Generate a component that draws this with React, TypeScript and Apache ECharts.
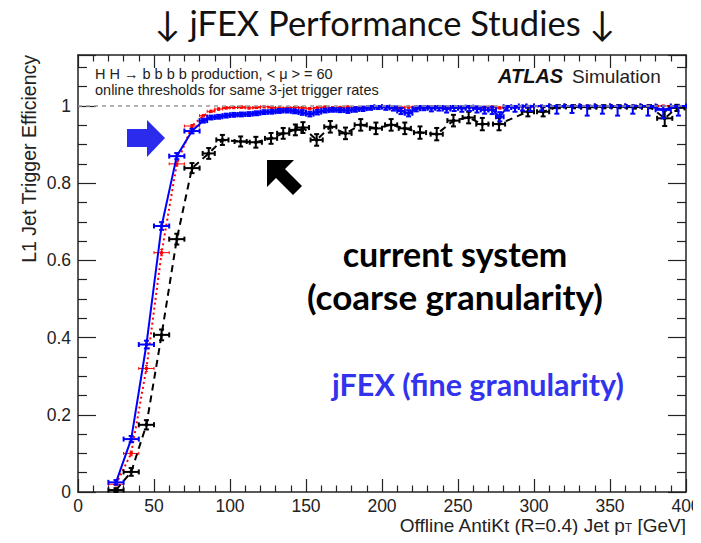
import React, { useEffect, useRef } from "react";
import * as echarts from "echarts";

// ---- data ----
const blueX = [25, 35, 45, 55, 65, 75, 82.5, 87.5, 92.5, 97.5, 102.5, 107.5, 112.5, 117.5, 122.5, 127.5, 132.5, 137.5, 142.5, 147.5, 152.5, 157.5, 162.5, 167.5, 172.5, 177.5, 182.5, 187.5, 192.5, 197.5, 202.5, 207.5, 212.5, 217.5, 222.5, 227.5, 232.5, 237.5, 242.5, 247.5, 252.5, 257.5, 262.5, 267.5, 272.5, 277.5, 282.5, 287.5, 292.5, 297.5, 305, 315, 325, 335, 345, 355, 365, 375, 385, 395];
const blueY = [0.025, 0.137, 0.382, 0.689, 0.87, 0.935, 0.962, 0.97, 0.972, 0.975, 0.977, 0.978, 0.979, 0.981, 0.984, 0.985, 0.987, 0.988, 0.986, 0.983, 0.979, 0.984, 0.988, 0.99, 0.989, 0.988, 0.991, 0.993, 0.996, 0.998, 0.997, 0.995, 0.987, 0.981, 0.993, 0.996, 0.994, 0.996, 0.992, 0.996, 0.994, 0.997, 0.993, 0.99, 0.99, 0.972, 0.998, 0.996, 1.0, 0.999, 1.0, 1.0, 1.0, 1.0, 1.0, 1.0, 1.0, 1.0, 0.99, 1.0];
const blueHalfBin = [5, 5, 5, 5, 5, 5, 2.5, 2.5, 2.5, 2.5, 2.5, 2.5, 2.5, 2.5, 2.5, 2.5, 2.5, 2.5, 2.5, 2.5, 2.5, 2.5, 2.5, 2.5, 2.5, 2.5, 2.5, 2.5, 2.5, 2.5, 2.5, 2.5, 2.5, 2.5, 2.5, 2.5, 2.5, 2.5, 2.5, 2.5, 2.5, 2.5, 2.5, 2.5, 2.5, 2.5, 2.5, 2.5, 2.5, 2.5, 5, 5, 5, 5, 5, 5, 5, 5, 5, 5];
const blueErrLo = [0.006, 0.008, 0.01, 0.01, 0.008, 0.006, 0.005, 0.005, 0.005, 0.005, 0.005, 0.005, 0.005, 0.005, 0.005, 0.005, 0.005, 0.005, 0.005, 0.006, 0.006, 0.006, 0.005, 0.005, 0.005, 0.006, 0.006, 0.006, 0.006, 0.006, 0.007, 0.007, 0.008, 0.008, 0.007, 0.007, 0.008, 0.008, 0.009, 0.009, 0.009, 0.01, 0.01, 0.01, 0.011, 0.012, 0.01, 0.011, 0.012, 0.012, 0.012, 0.02, 0.018, 0.025, 0.02, 0.025, 0.02, 0.025, 0.022, 0.025];
const blueErrHi = [0.006, 0.008, 0.01, 0.01, 0.008, 0.006, 0.005, 0.005, 0.005, 0.005, 0.005, 0.005, 0.005, 0.005, 0.005, 0.005, 0.005, 0.005, 0.005, 0.006, 0.006, 0.006, 0.005, 0.005, 0.005, 0.006, 0.006, 0.005, 0.004, 0.002, 0.003, 0.004, 0.008, 0.008, 0.006, 0.004, 0.005, 0.004, 0.007, 0.004, 0.005, 0.003, 0.006, 0.008, 0.008, 0.012, 0.002, 0.004, 0, 0.001, 0, 0, 0, 0, 0, 0, 0, 0, 0.01, 0];

const redX = [25, 35, 45, 55, 65, 75, 82.5, 87.5, 92.5, 97.5, 102.5, 107.5, 112.5, 117.5, 122.5, 127.5, 132.5, 137.5, 142.5, 147.5, 152.5, 157.5, 162.5, 167.5, 172.5, 177.5, 182.5, 187.5, 192.5, 197.5, 202.5, 207.5, 212.5, 217.5, 222.5, 227.5, 232.5, 237.5, 242.5, 247.5, 252.5, 257.5, 262.5, 267.5, 272.5, 277.5, 282.5, 287.5, 292.5, 297.5, 305, 315, 325, 335, 345, 355, 365, 375, 385, 395];
const redY = [0.02, 0.1, 0.32, 0.62, 0.85, 0.948, 0.975, 0.986, 0.992, 0.995, 0.996, 0.997, 0.995, 0.996, 0.998, 0.996, 0.995, 0.994, 0.996, 0.995, 0.993, 0.996, 0.997, 0.995, 0.996, 0.997, 0.995, 0.996, 0.997, 0.996, 0.997, 0.996, 0.995, 0.997, 0.996, 0.995, 0.997, 0.996, 0.995, 0.997, 0.996, 0.997, 0.995, 0.996, 0.997, 0.995, 0.998, 0.997, 0.998, 0.998, 0.999, 0.999, 1.0, 1.0, 1.0, 1.0, 1.0, 1.0, 1.0, 1.0];
const redErr = [0.004, 0.006, 0.008, 0.008, 0.006, 0.004, 0.003, 0.003, 0.003, 0.003, 0.003, 0.003, 0.003, 0.003, 0.003, 0.003, 0.003, 0.003, 0.003, 0.003, 0.003, 0.003, 0.003, 0.003, 0.003, 0.003, 0.003, 0.003, 0.003, 0.003, 0.003, 0.003, 0.003, 0.003, 0.003, 0.003, 0.003, 0.003, 0.003, 0.003, 0.003, 0.003, 0.003, 0.003, 0.003, 0.003, 0.002, 0.002, 0.002, 0.002, 0.001, 0.001, 0, 0, 0, 0, 0, 0, 0, 0];

const blackX = [25, 35, 45, 55, 65, 75, 86, 95, 107, 117, 127, 135, 143, 148, 157, 166, 176, 186, 196, 206, 215, 225, 236, 247, 257, 266, 277, 296, 306, 316, 326, 336, 346, 356, 366, 376, 386, 394];
const blackY = [0.005, 0.052, 0.174, 0.407, 0.655, 0.839, 0.877, 0.912, 0.908, 0.906, 0.916, 0.929, 0.938, 0.944, 0.912, 0.946, 0.929, 0.951, 0.942, 0.951, 0.942, 0.931, 0.927, 0.962, 0.97, 0.953, 0.953, 0.985, 0.985, 0.998, 0.998, 0.997, 0.998, 0.998, 0.997, 0.998, 0.968, 0.995];
const blackHalfBin = [5, 5, 5, 5, 5, 5, 4, 4, 4, 4, 4, 4, 4, 4, 4, 4, 4, 4, 4, 4, 4, 4, 4, 4, 4, 4, 4, 4, 4, 5, 5, 5, 5, 5, 5, 5, 5, 5];
const blackErr = [0.005, 0.01, 0.012, 0.014, 0.014, 0.013, 0.014, 0.013, 0.013, 0.014, 0.014, 0.014, 0.014, 0.014, 0.015, 0.015, 0.015, 0.015, 0.015, 0.015, 0.015, 0.016, 0.016, 0.015, 0.015, 0.016, 0.016, 0.012, 0.012, 0.004, 0.004, 0.004, 0.004, 0.004, 0.004, 0.004, 0.02, 0.008];

const xTicks = { min: 0, max: 400, interval: 50 };
const yTicks = { min: 0, max: 1.132, interval: 0.2 };

const FONT = "'Liberation Sans', Arial, Helvetica, sans-serif";
const CAL = "Lato, 'Open Sans', sans-serif";

function errData(xs: number[], ys: number[], hw: number[], lo: number[], hi: number[]) {
  return xs.map((x, i) => [x, ys[i], x - hw[i], x + hw[i], ys[i] - lo[i], ys[i] + hi[i]]);
}

function errRender(color: string, cap: number, width: number) {
  return (params: any, api: any) => {
    const x = api.value(0), y = api.value(1);
    const c = api.coord([x, y]);
    const pl = api.coord([api.value(2), y]);
    const ph = api.coord([api.value(3), y]);
    const vl = api.coord([x, api.value(4)]);
    const vh = api.coord([x, api.value(5)]);
    const st = { stroke: color, lineWidth: width };
    const children: any[] = [
      { type: "line", shape: { x1: pl[0], y1: c[1], x2: ph[0], y2: c[1] }, style: st },
      { type: "line", shape: { x1: pl[0], y1: c[1] - cap, x2: pl[0], y2: c[1] + cap }, style: st },
      { type: "line", shape: { x1: ph[0], y1: c[1] - cap, x2: ph[0], y2: c[1] + cap }, style: st },
    ];
    if (Math.abs(vl[1] - vh[1]) > 0.5) {
      children.push({ type: "line", shape: { x1: c[0], y1: vl[1], x2: c[0], y2: vh[1] }, style: st });
      if (Math.abs(vl[1] - c[1]) > 0.5)
        children.push({ type: "line", shape: { x1: c[0] - cap, y1: vl[1], x2: c[0] + cap, y2: vl[1] }, style: st });
      if (Math.abs(vh[1] - c[1]) > 0.5)
        children.push({ type: "line", shape: { x1: c[0] - cap, y1: vh[1], x2: c[0] + cap, y2: vh[1] }, style: st });
    }
    children.push({ type: "rect", shape: { x: c[0] - 1.5, y: c[1] - 1.5, width: 3, height: 3 }, style: { fill: color } });
    return { type: "group", children };
  };
}

function pairs(xs: number[], ys: number[]) {
  return xs.map((x, i) => [x, ys[i]]);
}

const axisCommon = {
  type: "value",
  splitLine: { show: false },
  axisLine: { show: true, onZero: false, lineStyle: { color: "#222", width: 1.5 } },
};

export default function App() {
  const ref = useRef<HTMLDivElement>(null);
  useEffect(() => {
    if (!ref.current) return;
    const chart = echarts.init(ref.current, undefined, { renderer: "svg" });
    const option: any = {
      animation: false,
      backgroundColor: "#fff",
      grid: { left: 78, right: 15, top: 55, bottom: 51, containLabel: false, outerBoundsMode: "none" },
      xAxis: [
        {
          ...axisCommon,
          ...xTicks,
          position: "bottom",
          axisTick: { show: true, inside: true, length: 13, lineStyle: { color: "#222", width: 1.2 } },
          minorTick: { show: true, splitNumber: 5, length: 6.5, lineStyle: { color: "#222", width: 1.2 } },
          axisLabel: { color: "#222", fontSize: 17.5, fontFamily: FONT, margin: 5, lineHeight: 18 },
        },
        {
          ...axisCommon,
          ...xTicks,
          position: "top",
          axisTick: { show: true, inside: true, length: 13, lineStyle: { color: "#222", width: 1.2 } },
          minorTick: { show: true, splitNumber: 5, length: 6.5, lineStyle: { color: "#222", width: 1.2 } },
          axisLabel: { show: false },
        },
      ],
      yAxis: [
        {
          ...axisCommon,
          ...yTicks,
          position: "left",
          axisTick: { show: true, inside: true, length: 18, lineStyle: { color: "#222", width: 1.2 } },
          minorTick: { show: true, splitNumber: 4, length: 9, lineStyle: { color: "#222", width: 1.2 } },
          axisLabel: { color: "#222", fontSize: 17.5, fontFamily: FONT, margin: 7, showMaxLabel: false },
        },
        {
          ...axisCommon,
          ...yTicks,
          position: "right",
          axisTick: { show: true, inside: true, length: 18, lineStyle: { color: "#222", width: 1.2 } },
          minorTick: { show: true, splitNumber: 4, length: 9, lineStyle: { color: "#222", width: 1.2 } },
          axisLabel: { show: false },
        },
      ],
      series: [
        {
          type: "line",
          data: pairs(redX, redY),
          showSymbol: false,
          lineStyle: { color: "#ff0000", width: 2, type: [2, 3] },
          z: 2,
          markLine: {
            silent: true,
            symbol: "none",
            label: { show: false },
            lineStyle: { color: "#999", width: 1.5, type: [4, 4] },
            data: [{ yAxis: 1 }],
          },
        },
        {
          type: "custom",
          data: errData(redX, redY, blueHalfBin, redErr, redErr),
          renderItem: errRender("#ff0000", 1.5, 1),
          encode: { x: 0, y: 1 },
          z: 2,
        },
        {
          type: "line",
          data: pairs(blackX, blackY),
          showSymbol: false,
          lineStyle: { color: "#000", width: 2, type: [7, 5] },
          z: 3,
        },
        {
          type: "custom",
          data: errData(blackX, blackY, blackHalfBin, blackErr, blackErr),
          renderItem: errRender("#000", 2.5, 2),
          encode: { x: 0, y: 1 },
          z: 3,
        },
        {
          type: "line",
          data: pairs(blueX, blueY),
          showSymbol: false,
          lineStyle: { color: "#0000ff", width: 2 },
          z: 4,
        },
        {
          type: "custom",
          data: errData(blueX, blueY, blueHalfBin, blueErrLo, blueErrHi),
          renderItem: errRender("#0000ff", 2.5, 2),
          encode: { x: 0, y: 1 },
          z: 4,
        },
      ],
      graphic: [
        {
          type: "text", x: 385, y: 22,
          style: { text: "↓ jFEX Performance Studies ↓", font: `34.5px ${CAL}`, fill: "#111", align: "center", verticalAlign: "middle" },
        },
        {
          type: "text", x: 29, y: 55, rotation: Math.PI / 2,
          style: { text: "L1 Jet Trigger Efficiency", font: `19.5px ${FONT}`, fill: "#222", align: "right", verticalAlign: "middle" },
        },
        {
          type: "text", x: 686, y: 525,
          style: {
            text: "Offline AntiKt (R=0.4) Jet p{sub|T} [GeV]",
            font: `19px ${FONT}`, fill: "#222", align: "right", verticalAlign: "middle", lineHeight: 19,
            rich: { sub: { fontSize: 12, fontFamily: FONT, fill: "#222", padding: [6, 0, 0, 0], lineHeight: 12 } },
          },
        },
        {
          type: "text", x: 95, y: 74,
          style: { text: "H H → b b b b production, < μ > = 60", font: `14.5px ${FONT}`, fill: "#222", align: "left", verticalAlign: "middle" },
        },
        {
          type: "text", x: 95, y: 90,
          style: { text: "online thresholds for same 3-jet trigger rates", font: `14.5px ${FONT}`, fill: "#222", align: "left", verticalAlign: "middle" },
        },
        {
          type: "text", x: 498, y: 76,
          style: { text: "ATLAS", font: `italic bold 20px ${FONT}`, fill: "#111", align: "left", verticalAlign: "middle" },
        },
        {
          type: "text", x: 572, y: 76,
          style: { text: "Simulation", font: `19px ${FONT}`, fill: "#222", align: "left", verticalAlign: "middle" },
        },
        {
          type: "text", x: 455, y: 253,
          style: { text: "current system", font: `bold 34px ${CAL}`, fill: "#000", align: "center", verticalAlign: "middle" },
        },
        {
          type: "text", x: 455, y: 296,
          style: { text: "(coarse granularity)", font: `bold 35px ${CAL}`, fill: "#000", align: "center", verticalAlign: "middle" },
        },
        {
          type: "text", x: 478, y: 384,
          style: { text: "jFEX (fine granularity)", font: `bold 30.5px ${CAL}`, fill: "#3333ee", align: "center", verticalAlign: "middle" },
        },
        {
          type: "polygon",
          shape: { points: [[127, 129], [147, 129], [147, 120], [165, 138], [147, 157], [147, 147], [127, 147]] },
          style: { fill: "#2b2bee" },
        },
        {
          type: "polygon",
          shape: { points: [[267, 160], [294, 160], [285, 169], [302, 186], [293, 195], [276, 178], [267, 187]] },
          style: { fill: "#000" },
        },
      ],
    };
    chart.setOption(option);
    return () => chart.dispose();
  }, []);
  return <div ref={ref} style={{ width: 701, height: 543, margin: -8 }} />;
}
